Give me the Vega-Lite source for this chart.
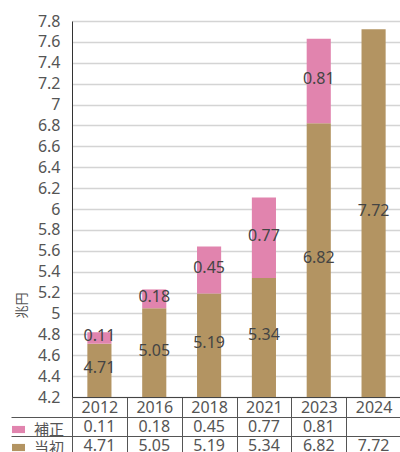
{
  "$schema": "https://vega.github.io/schema/vega-lite/v6.json",
  "padding": {"left": 10, "top": 13, "right": 2, "bottom": 0},
  "bounds": "flush",
  "spacing": 20,
  "config": {
    "font": "'Noto Sans', 'Noto Sans CJK JP', sans-serif",
    "view": {"stroke": null},
    "text": {"font": "'Noto Sans', 'Noto Sans CJK JP', sans-serif"}
  },
  "datasets": {
    "budget": [
      {"年度": "2012", "区分": "当初", "値": 4.71},
      {"年度": "2012", "区分": "補正", "値": 0.11},
      {"年度": "2016", "区分": "当初", "値": 5.05},
      {"年度": "2016", "区分": "補正", "値": 0.18},
      {"年度": "2018", "区分": "当初", "値": 5.19},
      {"年度": "2018", "区分": "補正", "値": 0.45},
      {"年度": "2021", "区分": "当初", "値": 5.34},
      {"年度": "2021", "区分": "補正", "値": 0.77},
      {"年度": "2023", "区分": "当初", "値": 6.82},
      {"年度": "2023", "区分": "補正", "値": 0.81},
      {"年度": "2024", "区分": "当初", "値": 7.72}
    ]
  },
  "resolve": {"scale": {"x": "independent", "y": "independent", "color": "independent"}},
  "vconcat": [
    {
      "width": 329,
      "height": 376,
      "data": {"name": "budget"},
      "resolve": {"scale": {"y": "independent"}},
      "encoding": {
        "x": {
          "field": "年度", "type": "nominal",
          "scale": {"paddingInner": 0, "paddingOuter": 0},
          "axis": {
            "title": null, "labelAngle": 0, "tickBand": "extent", "tickSize": 20,
            "tickColor": "#555", "domainColor": "#444", "labelPadding": -10,
            "labelBaseline": "middle", "labelFontSize": 16, "labelColor": "#555", "grid": false
          }
        }
      },
      "layer": [
        {
          "mark": {"type": "bar", "clip": true, "width": {"band": 0.44}},
          "encoding": {
            "y": {
              "field": "値", "type": "quantitative", "stack": "zero",
              "scale": {"domain": [4.2, 7.8], "nice": false, "zero": false},
              "axis": {
                "title": "兆円", "titleFontSize": 13, "titleColor": "#555", "titleFontWeight": "normal",
                "titleX": -51, "titleY": 284, "titleAlign": "center", "titleBaseline": "middle", "titleAngle": -90,
                "values": [4.2, 4.4, 4.6, 4.8, 5, 5.2, 5.4, 5.6, 5.8, 6, 6.2, 6.4, 6.6, 6.8, 7, 7.2, 7.4, 7.6, 7.8],
                "format": "~g", "ticks": false, "domainColor": "#333", "labelPadding": 12,
                "labelFontSize": 16, "labelColor": "#555", "gridColor": "#d4d4d4", "gridWidth": 1.5
              }
            },
            "color": {
              "field": "区分", "type": "nominal",
              "scale": {"domain": ["補正", "当初"], "range": ["#e184ae", "#b39462"]},
              "legend": {
                "orient": "none", "legendX": -61, "legendY": 401, "title": null,
                "symbolType": "M-1,-0.55H1V0.55H-1Z", "symbolSize": 169, "symbolStrokeWidth": 0,
                "labelFontSize": 15, "labelColor": "#555", "labelOffset": 8, "rowPadding": 2,
                "encode": {"symbols": {"update": {"fill": {"signal": "datum.value === '補正' ? '#d6247f' : '#b39462'"}}}}
              }
            },
            "order": {"field": "区分", "sort": "ascending"}
          }
        },
        {
          "mark": {"type": "text", "clip": true, "fontSize": 16, "color": "#444", "baseline": "middle", "dy": -2},
          "encoding": {
            "y": {
              "field": "値", "type": "quantitative", "stack": "zero", "bandPosition": 0.5,
              "scale": {"domain": [4.2, 7.8], "nice": false, "zero": false}, "axis": null
            },
            "detail": {"field": "区分"},
            "order": {"field": "区分", "sort": "ascending"},
            "text": {"field": "値", "type": "quantitative", "format": ".2f"}
          }
        },
        {
          "transform": [{"filter": "datum['区分'] === '当初'"}],
          "mark": {"type": "text", "fontSize": 16, "color": "#444", "baseline": "middle", "dy": -2},
          "encoding": {
            "y": {
              "field": "値", "type": "quantitative",
              "scale": {"domain": [4.2, 11.4], "nice": false, "zero": false}, "axis": null
            },
            "text": {"field": "値", "type": "quantitative", "format": ".2f"}
          }
        }
      ]
    },
    {
      "width": 329,
      "height": 38,
      "data": {"name": "budget"},
      "mark": {"type": "text", "fontSize": 16, "color": "#555", "baseline": "middle"},
      "encoding": {
        "x": {
          "field": "年度", "type": "nominal",
          "scale": {"paddingInner": 0, "paddingOuter": 0},
          "axis": {"title": null, "labels": false, "ticks": false, "domain": false, "grid": true,
                   "tickBand": "extent", "gridColor": "#555", "gridWidth": 1, "orient": "top"}
        },
        "y": {
          "field": "区分", "type": "nominal",
          "scale": {"domain": ["補正", "当初"], "paddingInner": 0, "paddingOuter": 0},
          "axis": {"title": null, "labels": false, "ticks": true, "tickSize": 61, "tickBand": "extent",
                   "tickColor": "#555", "domain": false, "grid": true, "gridColor": "#555", "gridWidth": 1}
        },
        "text": {"field": "値", "type": "quantitative", "format": ".2f"}
      }
    }
  ]
}
